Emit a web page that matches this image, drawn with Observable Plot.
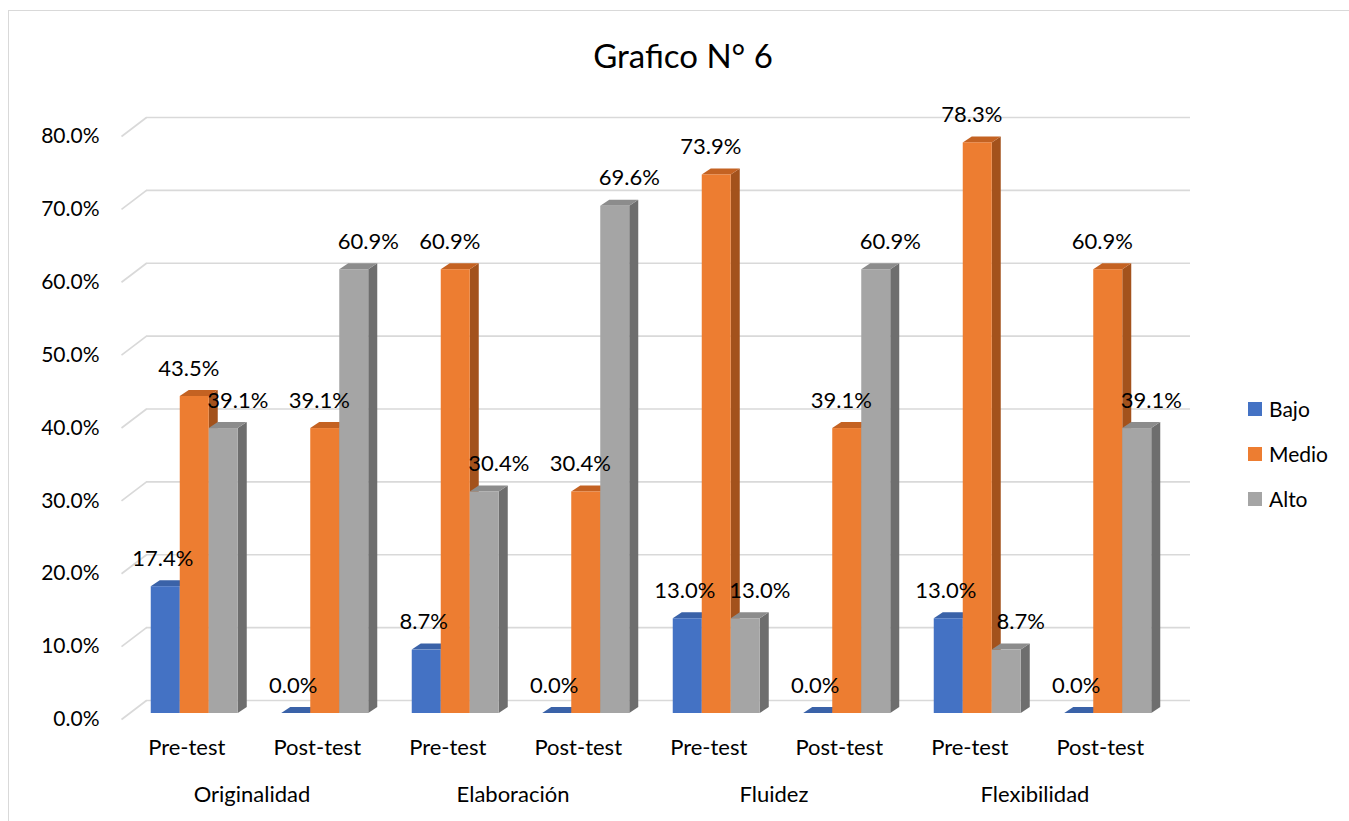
<!DOCTYPE html>
<html><head><meta charset="utf-8">
<script src="https://cdn.jsdelivr.net/npm/d3@7"></script>
<script src="https://cdn.jsdelivr.net/npm/@observablehq/plot@0.6"></script>
<style>
body{margin:0;background:#fff;font-family:Lato,"Open Sans",sans-serif;}
#wrap{position:relative;width:1349px;height:821px;overflow:hidden;background:#fff;}
#frame{position:absolute;left:8px;top:10px;width:1380px;height:840px;border:1.5px solid #d9d9d9;box-sizing:border-box;}
#chart{position:absolute;left:0;top:0;}
#title{position:absolute;left:0;width:1366px;top:35px;line-height:40px;text-align:center;font-size:33px;color:#000;}
#legend{position:absolute;left:1248px;top:386px;font-size:21px;color:#000;}
.item{display:flex;align-items:center;height:45px;}
.sw{width:14px;height:14px;margin-right:7px;}
</style></head><body>
<div id="wrap"><div id="frame"></div><div id="chart"></div><div id="title">Grafico N° 6</div><div id="legend"></div></div>
<script>
// ---- data ----
const categories = ["Originalidad", "Elaboración", "Fluidez", "Flexibilidad"];
const phases = ["Pre-test", "Post-test"];
const seriesNames = ["Bajo", "Medio", "Alto"];
const bajo  = [17.4, 0.0, 8.7, 0.0, 13.0, 0.0, 13.0, 0.0];
const medio = [43.5, 39.1, 60.9, 30.4, 73.9, 39.1, 78.3, 60.9];
const alto  = [39.1, 60.9, 30.4, 69.6, 13.0, 60.9, 8.7, 39.1];
const yTicks = [0, 10, 20, 30, 40, 50, 60, 70, 80];

// ---- style ----
const frontColors = ["#4472C4", "#ED7D31", "#A5A5A5"];
const topColors   = ["#3A62A8", "#C46222", "#8C8C8C"];
const sideColors  = ["#2E4F8A", "#A3521C", "#6E6E6E"];
const labelDx = [5, 2, 22];

const W = 1349, H = 821, mL = 121, mR = 184, mT = 136, mB = 102;
const xDom = [-0.5, 7.5], yDom = [0, 80];
const pxX = (W - mL - mR) / (xDom[1] - xDom[0]);
const pxY = (H - mT - mB) / (yDom[1] - yDom[0]);
const barW = 29 / pxX;            // bar width in x units
const dX = 9 / pxX, dY = 6 / pxY; // bar depth
const wallX = 25 / pxX, wallY = 19 / pxY;

const seriesVals = [bajo, medio, alto];
const bars = [];
for (let g = 0; g < 8; g++) {
  for (let s = 0; s < 3; s++) {
    const x1 = g - 1.5 * barW + s * barW;
    bars.push({id: g * 3 + s, g, s, v: seriesVals[s][g], x1, x2: x1 + barW});
  }
}
const sidePts = bars.flatMap(b => [
  {id: b.id, s: b.s, x: b.x2, y1: 0, y2: b.v},
  {id: b.id, s: b.s, x: b.x2 + dX, y1: dY, y2: b.v + dY}
]);
const topPts = bars.flatMap(b => [
  {id: b.id, s: b.s, y: b.v, x1: b.x1, x2: b.x2},
  {id: b.id, s: b.s, y: b.v + dY, x1: b.x1 + dX, x2: b.x2 + dX}
]);

const font = "Lato, 'Open Sans', sans-serif";
const chart = Plot.plot({
  width: W, height: H,
  marginLeft: mL, marginRight: mR, marginTop: mT, marginBottom: mB,
  x: {domain: xDom},
  y: {domain: yDom},
  color: {type: "identity"},
  style: {fontFamily: font, fontSize: "20px", color: "#000", background: "transparent", overflow: "visible"},
  marks: [
    Plot.ruleY(yTicks, {y: d => d, x1: xDom[0], x2: xDom[1], dx: 25, dy: -19, stroke: "#d9d9d9", strokeWidth: 1.7}),
    Plot.link(yTicks, {x1: xDom[0], y1: d => d, x2: xDom[0] + wallX, y2: d => d + wallY, stroke: "#d9d9d9", strokeWidth: 1.7}),
    Plot.areaY(sidePts, {x: "x", y1: "y1", y2: "y2", z: "id", fill: d => sideColors[d.s], dx: 8, dy: -6}),
    Plot.areaX(topPts, {y: "y", x1: "x1", x2: "x2", z: "id", fill: d => topColors[d.s], dx: 8, dy: -6}),
    Plot.rect(bars, {x1: "x1", x2: "x2", y1: 0, y2: "v", fill: d => frontColors[d.s], dx: 8, dy: -6}),
    ...[0, 1, 2].map(s => Plot.text(bars.filter(b => b.s === s), {x: d => (d.x1 + d.x2) / 2, y: "v", text: d => d.v.toFixed(1) + "%", dx: labelDx[s], dy: -34, fontSize: 22, fill: "#000"})),
    Plot.axisY(yTicks, {tickSize: 0, tickPadding: 22, tickFormat: d => d.toFixed(1) + "%", fontSize: 21, fill: "#000", label: null}),
    Plot.axisX(d3.range(8), {tickSize: 0, tickPadding: 20, tickFormat: i => phases[i % 2], fontSize: 22, fill: "#000", label: null}),
    Plot.axisX([0.5, 2.5, 4.5, 6.5], {tickSize: 0, tickPadding: 67, tickFormat: d => categories[(d - 0.5) / 2], fontSize: 22, fill: "#000", label: null})
  ]
});
document.getElementById("chart").appendChild(chart);

const legend = document.getElementById("legend");
seriesNames.forEach((n, i) => {
  const it = document.createElement("div");
  it.className = "item";
  it.innerHTML = `<span class="sw" style="background:${frontColors[i]}"></span><span>${n}</span>`;
  legend.appendChild(it);
});
</script>
</body></html>
